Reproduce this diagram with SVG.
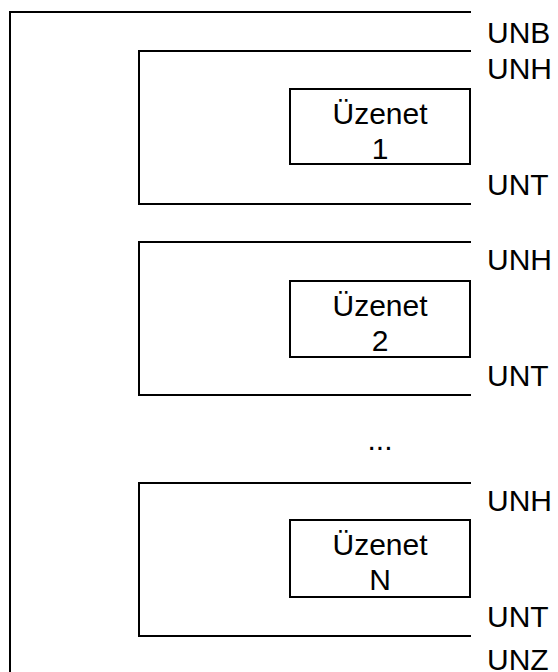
<svg xmlns="http://www.w3.org/2000/svg" width="558" height="672" viewBox="0 0 558 672">
<style>
.ln{fill:none;stroke:#000;stroke-width:2;stroke-linecap:butt}
.t{font-family:"Liberation Sans",Arial,sans-serif;font-size:30px;fill:#000}
.c{text-anchor:middle}
</style>
<rect width="558" height="672" fill="#fff"/>
<g id="interchange">
<path class="ln" d="M471,12 H10 V672"/>
<text class="t" x="487" y="43">UNB</text>
<text class="t" x="487" y="670">UNZ</text>
</g>
<g id="message1">
<path class="ln" d="M471,51 H139 V204 H471"/>
<text class="t" x="487" y="79">UNH</text>
<text class="t" x="487" y="195">UNT</text>
<rect class="ln" x="290" y="89" width="180" height="75"/>
<text class="t c" x="380" y="124">Üzenet</text>
<text class="t c" x="380" y="159">1</text>
</g>
<g id="message2">
<path class="ln" d="M471,242 H139 V395 H471"/>
<text class="t" x="487" y="270">UNH</text>
<text class="t" x="487" y="386">UNT</text>
<rect class="ln" x="290" y="281" width="180" height="76"/>
<text class="t c" x="380" y="316">Üzenet</text>
<text class="t c" x="380" y="351">2</text>
</g>
<text class="t c" x="380" y="450">...</text>
<g id="messageN">
<path class="ln" d="M471,483 H139 V636 H471"/>
<text class="t" x="487" y="511">UNH</text>
<text class="t" x="487" y="627">UNT</text>
<rect class="ln" x="290" y="520" width="180" height="77"/>
<text class="t c" x="380" y="555">Üzenet</text>
<text class="t c" x="380" y="590">N</text>
</g>
<g id="connectors"></g>
</svg>
